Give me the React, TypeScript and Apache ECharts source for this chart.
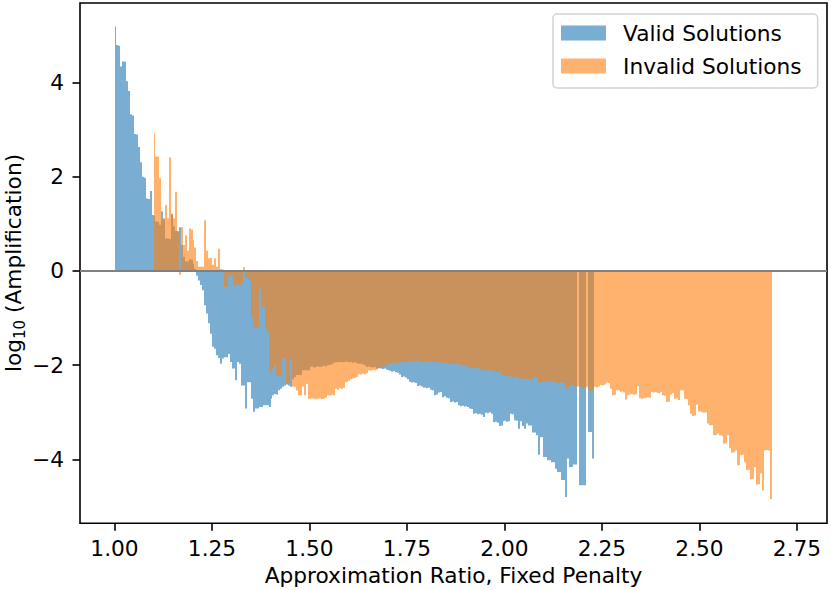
import React, { useEffect, useRef } from 'react';
import * as echarts from 'echarts';

// Histogram bins: left edge of bin k is BIN_START + k * BIN_WIDTH
const BIN_START = 1.0;
const BIN_WIDTH = 0.005;
const VALID_START_INDEX = 0;
const INVALID_START_INDEX = 20;

const seriesNames = ['Valid Solutions', 'Invalid Solutions'];

// log10(Amplification) per bin, valid solutions (bins 0..245), null = empty bin
const validValues: (number | null)[] = [
  5.19, 4.80, 4.78, 4.34, 4.45, 4.44, 4.03, 3.82, 3.33, 3.30,
  2.91, 2.90, 2.63, 2.31, 2.00, 1.98, 1.54, 1.53, 1.70, 1.19,
  1.17, 1.05, 1.04, 0.98, 1.27, 1.10, 0.69, 0.69, 0.68, 1.20,
  0.95, 0.85, 0.84, 0.93, 0.55, 0.30, 0.20, 0.20, 0.25, 0.24,
  0.15, 0.05, -0.10, -0.20, -0.30, -0.41, -0.73, -0.90, -1.11, -1.33,
  -1.61, -1.65, -1.79, -1.85, -1.97, -1.86, -1.83, -1.83, -1.76, -1.93,
  -2.07, -2.07, -2.32, -1.93, -1.97, -2.43, -2.43, -2.92, -2.36, -2.36,
  -2.71, -2.99, -2.92, -2.92, -2.89, -2.89, -2.85, -2.85, -2.85, -2.89,
  -2.71, -2.64, -2.61, -2.62, -2.53, -2.50, -2.46, -2.43, -2.41, -2.43,
  -2.46, -2.30, -2.25, -2.21, -2.21, -2.21, -2.11, -2.11, -2.11, -2.11,
  -2.04, -2.03, -2.05, -2.04, -2.02, -2.04, -2.03, -2.01, -2.02, -2.00,
  -1.99, -1.98, -1.95, -1.94, -1.94, -1.93, -1.93, -1.94, -1.92, -1.93,
  -1.94, -1.93, -1.95, -1.94, -1.96, -1.97, -1.97, -1.98, -2.00, -2.04,
  -2.03, -2.04, -2.05, -2.04, -2.07, -2.06, -2.07, -2.08, -2.07, -2.09,
  -2.10, -2.12, -2.14, -2.13, -2.15, -2.16, -2.20, -2.25, -2.24, -2.26,
  -2.30, -2.35, -2.37, -2.36, -2.38, -2.44, -2.43, -2.45, -2.48, -2.47,
  -2.49, -2.48, -2.52, -2.53, -2.64, -2.62, -2.58, -2.57, -2.68, -2.66,
  -2.69, -2.70, -2.78, -2.77, -2.79, -2.78, -2.85, -2.87, -2.86, -2.88,
  -2.87, -2.89, -2.92, -2.93, -3.03, -3.02, -3.04, -3.03, -3.05, -3.10,
  -3.01, -3.02, -3.00, -3.03, -3.21, -3.20, -3.22, -3.29, -3.28, -3.19,
  -3.18, -3.20, -3.19, -3.03, -3.04, -3.17, -3.18, -3.35, -3.19, -3.29,
  -3.35, -3.24, -3.28, -3.28, -3.43, -3.43, -3.49, -3.90, -3.53, -3.53,
  -3.95, -3.95, -4.02, -4.02, -4.06, -4.06, -4.20, -4.27, -4.27, -4.44,
  -4.44, -4.80, -3.98, -4.16, -4.16, -4.11, -4.11, null, -4.55, -4.55,
  -4.55, -4.55, null, -3.42, -3.42, -3.98,
];

// log10(Amplification) per bin, invalid solutions (bins 20..336)
const invalidValues: (number | null)[] = [
  2.92, 2.43, 2.43, 1.97, 1.08, 1.12, 1.40, 1.12, 2.41, 1.22,
  1.12, 1.68, 0.85, -0.08, 0.93, 0.55, 0.76, 0.43, 0.90, 0.88,
  0.66, 0.50, 0.21, 0.09, 0.09, 0.09, 1.08, 0.43, 0.27, 0.28,
  0.13, 0.27, 0.09, 0.47, 0.04, 0.03, -0.34, -0.34, -0.10, -0.08,
  -0.12, -0.30, -0.30, -0.28, -0.30, -0.25, 0.08, -0.15, -0.15, -0.20,
  -1.00, -1.20, -1.20, -1.20, -0.38, -0.77, -0.77, -1.23, -1.30, -2.15,
  -2.15, -2.07, -2.00, -2.22, -2.22, -2.25, -1.86, -1.86, -2.39, -2.39,
  -1.86, -2.46, -2.46, -2.54, -2.64, -2.64, -2.45, -2.64, -2.40, -2.71,
  -2.72, -2.70, -2.71, -2.73, -2.71, -2.70, -2.72, -2.71, -2.69, -2.64,
  -2.65, -2.63, -2.64, -2.50, -2.52, -2.49, -2.50, -2.48, -2.36, -2.35,
  -2.33, -2.30, -2.28, -2.27, -2.25, -2.19, -2.20, -2.18, -2.19, -2.17,
  -2.11, -2.12, -2.10, -2.11, -2.09, -2.07, -2.06, -2.03, -2.02, -2.01,
  -1.97, -1.97, -1.96, -1.96, -1.95, -1.95, -1.94, -1.94, -1.93, -1.93,
  -1.92, -1.92, -1.91, -1.91, -1.90, -1.91, -1.92, -1.93, -1.93, -1.92,
  -1.94, -1.93, -1.92, -1.92, -1.93, -1.92, -1.95, -1.94, -1.95, -1.96,
  -1.95, -1.96, -1.97, -1.98, -1.97, -1.97, -1.98, -1.99, -2.00, -2.01,
  -2.00, -2.07, -2.06, -2.06, -2.05, -2.07, -2.06, -2.08, -2.11, -2.10,
  -2.12, -2.11, -2.10, -2.12, -2.13, -2.14, -2.15, -2.14, -2.21, -2.20,
  -2.22, -2.21, -2.23, -2.25, -2.26, -2.24, -2.25, -2.27, -2.29, -2.30,
  -2.28, -2.29, -2.30, -2.31, -2.29, -2.25, -2.26, -2.36, -2.37, -2.34,
  -2.33, -2.35, -2.34, -2.33, -2.34, -2.36, -2.37, -2.39, -2.38, -2.36,
  -2.37, -2.50, -2.49, -2.43, -2.42, -2.44, -2.46, -2.45, -2.44, -2.47,
  -2.50, -2.48, -2.46, -2.52, -2.55, -2.53, -2.46, -2.47, -2.45, -2.42,
  -2.43, -2.41, -2.37, -2.38, -2.50, -2.64, -2.63, -2.53, -2.54, -2.57,
  -2.56, -2.58, -2.73, -2.64, -2.62, -2.61, -2.63, -2.62, -2.44, -2.70,
  -2.71, -2.70, -2.69, -2.68, -2.69, -2.57, -2.58, -2.57, -2.59, -2.60,
  -2.57, -2.64, -2.65, -2.78, -2.77, -2.62, -2.59, -2.71, -2.70, -2.74,
  -2.53, -2.54, -2.71, -2.72, -2.85, -3.03, -3.08, -3.07, -2.84, -2.99,
  -2.98, -3.00, -3.01, -3.00, -3.24, -3.28, -3.27, -3.49, -3.48, -3.45,
  -3.49, -3.50, -3.67, -3.66, -3.49, -3.76, -3.86, -3.85, -3.81, -4.13,
  -4.12, -3.91, -3.90, -4.06, -4.23, -4.22, -4.42, -4.41, -4.16, -4.54,
  -4.53, -4.30, -4.66, -3.81, -3.80, -3.81, -4.84,
];

const xTickValues = [1.0, 1.25, 1.5, 1.75, 2.0, 2.25, 2.5, 2.75];
const yTickValues = [-4, -2, 0, 2, 4];

const X_MIN = 0.9115;
const X_MAX = 2.827;
const Y_MIN = -5.357;
const Y_MAX = 5.69;

const BLUE = 'rgba(31,119,180,0.6)';
const ORANGE = 'rgba(255,127,14,0.6)';
const FONT = "'DejaVu Sans', sans-serif";
const FS = 21.7;

function toBins(values: (number | null)[], startIndex: number) {
  const out: number[][] = [];
  values.forEach((v, k) => {
    if (v === null) return;
    out.push([BIN_START + (startIndex + k) * BIN_WIDTH, v]);
  });
  return out;
}

function makeRenderItem(fill: string) {
  return (params: any, api: any) => {
    const x0 = api.value(0);
    const y = api.value(1);
    const pTop = api.coord([x0, y]);
    const pBase = api.coord([x0 + BIN_WIDTH, 0]);
    // snap vertical edges to whole pixels so neighbouring bins meet without seams
    const left = Math.round(pTop[0]);
    const right = Math.round(pBase[0]);
    return {
      type: 'rect',
      shape: {
        x: left,
        y: Math.min(pTop[1], pBase[1]),
        width: right - left,
        height: Math.abs(pBase[1] - pTop[1]),
      },
      style: { fill },
    };
  };
}

const fmtY = (v: number) => (v < 0 ? '\u2212' + Math.abs(v) : String(v));

export default function App() {
  const ref = useRef<HTMLDivElement>(null);
  useEffect(() => {
    if (!ref.current) return;
    const chart = echarts.init(ref.current, null, { renderer: 'svg' });
    const option: any = {
      animation: false,
      backgroundColor: '#ffffff',
      grid: {
        left: 80,
        top: 3,
        width: 747,
        height: 520.3,
        show: true,
        borderColor: '#000',
        borderWidth: 1.6,
        backgroundColor: 'transparent',
        containLabel: false,
        outerBoundsMode: 'none',
      },
      graphic: [
        {
          type: 'text',
          x: 13,
          y: 263,
          rotation: Math.PI / 2,
          silent: true,
          style: {
            text: '{m|log}{s|10}{m| (Amplification)}',
            align: 'center',
            verticalAlign: 'middle',
            fill: '#000',
            fontFamily: FONT,
            fontSize: FS,
            rich: {
              m: { fontFamily: FONT, fontSize: FS, fill: '#000', lineHeight: 28, verticalAlign: 'middle' },
              s: { fontFamily: FONT, fontSize: 15, fill: '#000', lineHeight: 15, verticalAlign: 'bottom' },
            },
          },
        },
      ],
      legend: {
        orient: 'vertical',
        left: 553,
        top: 14,
        padding: [8, 16, 11, 8],
        itemWidth: 45,
        itemHeight: 15,
        itemGap: 11,
        backgroundColor: 'rgba(255,255,255,0.8)',
        borderColor: '#d2d2d2',
        borderWidth: 1.5,
        borderRadius: 4,
        selectedMode: false,
        textStyle: { fontFamily: FONT, fontSize: FS, color: '#000', padding: [0, 0, 0, 12] },
        data: [
          { name: seriesNames[0], icon: 'rect', itemStyle: { color: BLUE } },
          { name: seriesNames[1], icon: 'rect', itemStyle: { color: ORANGE } },
        ],
      },
      xAxis: {
        type: 'value',
        min: X_MIN,
        max: X_MAX,
        axisLine: { show: false, onZero: false },
        splitLine: { show: false },
        axisTick: { show: true, length: 7.5, lineStyle: { color: '#000', width: 1.6 }, customValues: xTickValues },
        axisLabel: {
          customValues: xTickValues,
          formatter: (v: number) => v.toFixed(2),
          margin: 14.5,
          fontFamily: FONT,
          fontSize: FS,
          color: '#000',
        },
        name: 'Approximation Ratio, Fixed Penalty',
        nameLocation: 'middle',
        nameGap: 40,
        nameTextStyle: { fontFamily: FONT, fontSize: FS, color: '#000' },
      },
      yAxis: {
        type: 'value',
        min: Y_MIN,
        max: Y_MAX,
        axisLine: { show: false, onZero: false },
        splitLine: { show: false },
        axisTick: { show: true, length: 7.5, lineStyle: { color: '#000', width: 1.6 }, customValues: yTickValues },
        axisLabel: {
          customValues: yTickValues,
          formatter: fmtY,
          margin: 16,
          fontFamily: FONT,
          fontSize: FS,
          color: '#000',
        },
      },
      series: [
        {
          name: seriesNames[0],
          type: 'custom',
          renderItem: makeRenderItem(BLUE),
          itemStyle: { color: BLUE },
          encode: { x: 0, y: 1 },
          data: toBins(validValues, VALID_START_INDEX),
          z: 2,
          silent: true,
        },
        {
          name: seriesNames[1],
          type: 'custom',
          renderItem: makeRenderItem(ORANGE),
          itemStyle: { color: ORANGE },
          encode: { x: 0, y: 1 },
          data: toBins(invalidValues, INVALID_START_INDEX),
          z: 3,
          silent: true,
        },
        {
          name: 'zero',
          type: 'line',
          data: [],
          z: 5,
          silent: true,
          markLine: {
            silent: true,
            symbol: ['none', 'none'],
            label: { show: false },
            lineStyle: { color: '#808080', width: 2, type: 'solid' },
            data: [{ yAxis: 0 }],
          },
        },
      ],
    };
    chart.setOption(option);
    return () => chart.dispose();
  }, []);
  return (
    <div
      ref={ref}
      style={{ position: 'fixed', left: 0, top: 0, width: 831, height: 590, background: '#fff' }}
    />
  );
}
